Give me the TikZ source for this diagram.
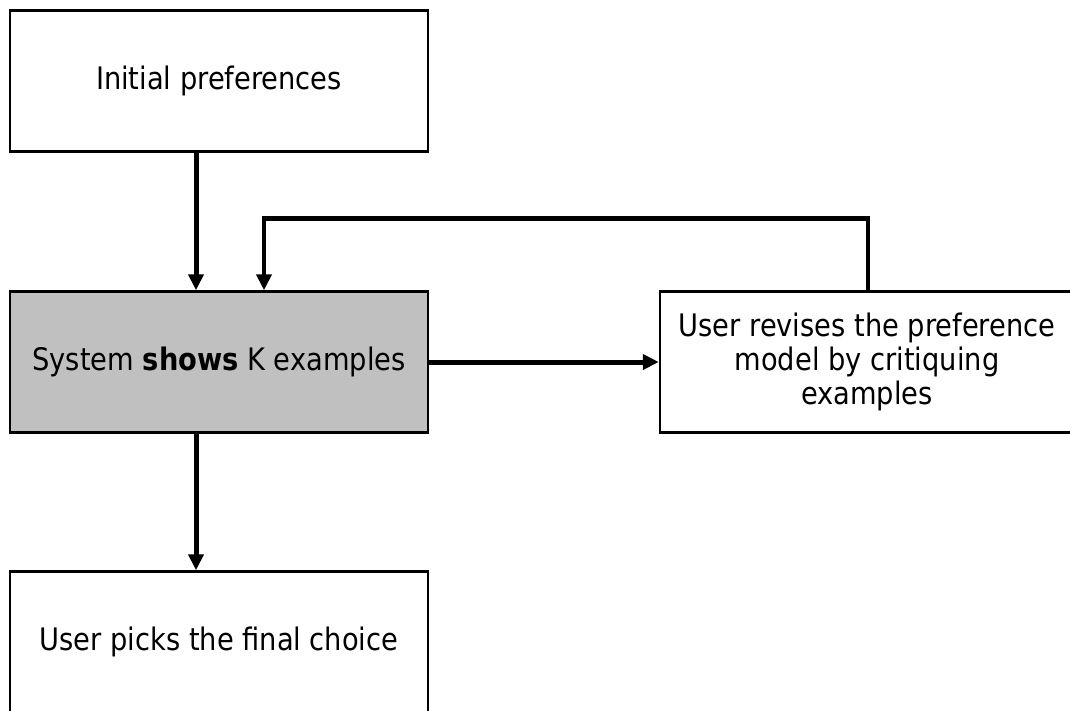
\documentclass[tikz,border=0pt]{standalone}
\usepackage{fontspec}
\setmainfont{DejaVu Sans}[FakeStretch=0.88]
\usetikzlibrary{arrows.meta}
\begin{document}
\begin{tikzpicture}[x=1pt,y=-1pt,
  box/.style={draw=black,line width=2.5pt,fill=white,minimum width=418pt,minimum height=141pt,
    inner sep=0pt,align=center,font=\fontsize{31}{34}\selectfont},
  shaded/.style={box,fill=shadegray},
  conn/.style={line width=5pt,-{Triangle[length=16pt,width=15pt]}},
  plain/.style={line width=4.5pt}]
\definecolor{shadegray}{HTML}{C0C0C0}
\useasboundingbox (0,0) rectangle (1070,710);
\node[box] (init) at (219,81) {Initial preferences};
\node[shaded] (show) at (219,362) {System \textbf{shows} K examples};
\node[box,minimum width=414pt] (revise) at (867,362) {User revises the preference\\model by critiquing\\examples};
\node[box] (pick) at (219,642) {User picks the final choice};
% main flow
\draw[conn] ([xshift=-23pt]init.south) -- ([xshift=-23pt]show.north);
\draw[conn] (show.east) -- (revise.west);
\draw[conn] ([xshift=-23pt]show.south) -- ([xshift=-23pt]pick.north);
% feedback loop
\coordinate (loopR) at ([xshift=1pt,yshift=72pt]revise.north);
\coordinate (loopL) at ([xshift=45pt,yshift=72pt]show.north);
\draw[conn,line width=4.5pt,line join=miter] ([xshift=1pt]revise.north) -- (loopR) -- (loopL) -- ([xshift=45pt]show.north);
\end{tikzpicture}
\end{document}
